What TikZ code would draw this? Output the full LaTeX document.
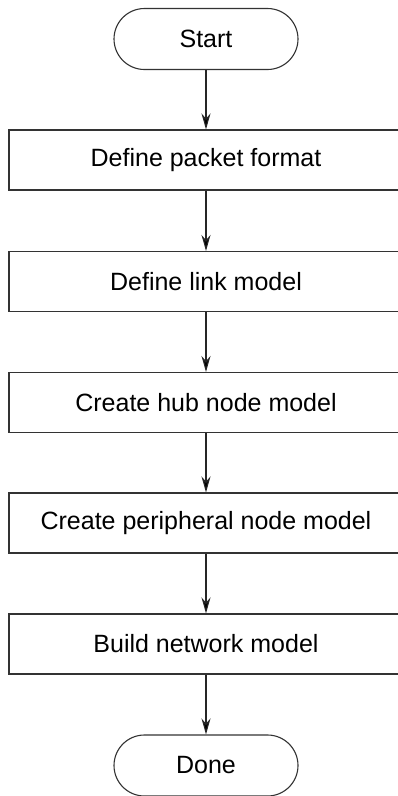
\documentclass[tikz,border=0pt]{standalone}
\usepackage{fontspec}
\setmainfont{Liberation Sans}
\usepackage{tikz}
\usetikzlibrary{arrows.meta}

\begin{document}
\begin{tikzpicture}[x=1pt,y=1pt,
	line width=1.1pt,
	terminal/.style={shape=rectangle,draw=black!80,rounded corners=30.5pt,minimum width=184pt,minimum height=61pt,inner sep=0pt,font=\fontsize{25}{30}\selectfont},
	stepbox/.style={shape=rectangle,draw=black!80,minimum width=394pt,minimum height=60pt,inner sep=0pt,font=\fontsize{25}{30}\selectfont},
	flow/.style={-{Stealth[length=16pt,width=9pt]},draw=black!85}]
	\useasboundingbox (0,0) rectangle (397,-796);

	\node[terminal] (start) at (206, -39)    {Start};
	\node[stepbox]  (s1)    at (206, -160)   {Define packet format};
	\node[stepbox]  (s2)    at (206, -281.5) {Define link model};
	\node[stepbox]  (s3)    at (206, -402.5) {Create hub node model};
	\node[stepbox]  (s4)    at (206, -523)   {Create peripheral node model};
	\node[stepbox]  (s5)    at (206, -644)   {Build network model};
	\node[terminal] (done)  at (206, -765.5) {Done};

	\path[flow] (start) edge (s1);
	\path[flow] (s1) edge (s2);
	\path[flow] (s2) edge (s3);
	\path[flow] (s3) edge (s4);
	\path[flow] (s4) edge (s5);
	\path[flow] (s5) edge (done);
\end{tikzpicture}
\end{document}
